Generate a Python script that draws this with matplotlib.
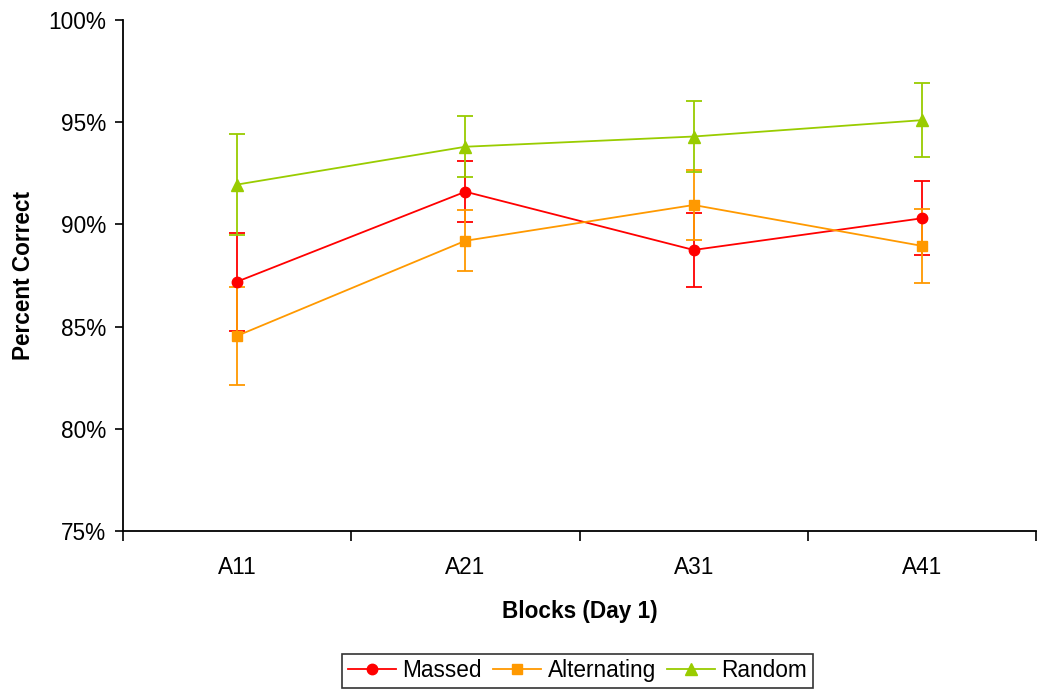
import matplotlib

matplotlib.use("Agg")
import matplotlib.pyplot as plt
from matplotlib.ticker import FixedLocator, FuncFormatter

plt.rcParams["font.family"] = ["Liberation Sans", "DejaVu Sans"]

blocks = ["A11", "A21", "A31", "A41"]

massed = [87.2, 91.6, 88.75, 90.3]
massed_err = [2.4, 1.5, 1.8, 1.8]
alternating = [84.55, 89.2, 90.95, 88.95]
alternating_err = [2.4, 1.5, 1.7, 1.8]
random_order = [91.95, 93.8, 94.3, 95.1]
random_err = [2.45, 1.5, 1.75, 1.8]

SERIES = [
    ("Massed", massed, massed_err, "#ff0000", "o", 7.5),
    ("Alternating", alternating, alternating_err, "#ff9900", "s", 7.0),
    ("Random", random_order, random_err, "#99cc00", "^", 8.5),
]

FONT_SIZE = 16.3

fig = plt.figure(figsize=(10.37, 6.9), dpi=100)
ax = fig.add_axes([0.1186, 0.2304, 0.8805, 0.7406])

x = list(range(len(blocks)))
handles = []
for name, values, errs, color, marker, size in SERIES:
    ax.errorbar(
        x, values, yerr=errs, fmt="none", ecolor=color,
        elinewidth=1.3, capsize=6, capthick=1.3, zorder=2,
    )
    (line,) = ax.plot(
        x, values, color=color, linewidth=1.3, marker=marker,
        markersize=size, markeredgecolor=color, label=name, zorder=3,
    )
    handles.append(line)

ax.set_xlim(-0.5, len(blocks) - 0.5)
ax.set_ylim(75, 100)
ax.yaxis.set_major_locator(FixedLocator([75, 80, 85, 90, 95, 100]))
ax.yaxis.set_major_formatter(FuncFormatter(lambda v, _: f"{v:.0f}%"))

# category labels centred, tick marks on the category boundaries
ax.set_xticks(x)
ax.set_xticklabels(blocks)
ax.set_xticks([i - 0.5 for i in range(len(blocks) + 1)], minor=True)
ax.tick_params(axis="x", which="major", length=0, pad=18, labelsize=FONT_SIZE)
ax.tick_params(axis="x", which="minor", length=7, width=1.2, direction="out")
ax.tick_params(axis="y", length=6, width=1.2, direction="out", pad=6, labelsize=FONT_SIZE)

for side in ("top", "right"):
    ax.spines[side].set_visible(False)
for side in ("left", "bottom"):
    ax.spines[side].set_linewidth(1.3)

ax.set_xlabel("Blocks (Day 1)", fontsize=FONT_SIZE, fontweight="bold", labelpad=15)
ax.set_ylabel("Percent Correct", fontsize=FONT_SIZE, fontweight="bold", labelpad=10)

leg = fig.legend(
    handles=handles, loc="lower center", bbox_to_anchor=(0.557, 0.003),
    ncol=3, fontsize=FONT_SIZE, frameon=True, fancybox=False, edgecolor="black",
    handlelength=2.1, handletextpad=0.3, columnspacing=0.5,
    borderpad=0.25, borderaxespad=0.0,
)
leg.get_frame().set_linewidth(1.2)

fig.savefig("out.png", dpi=100)
